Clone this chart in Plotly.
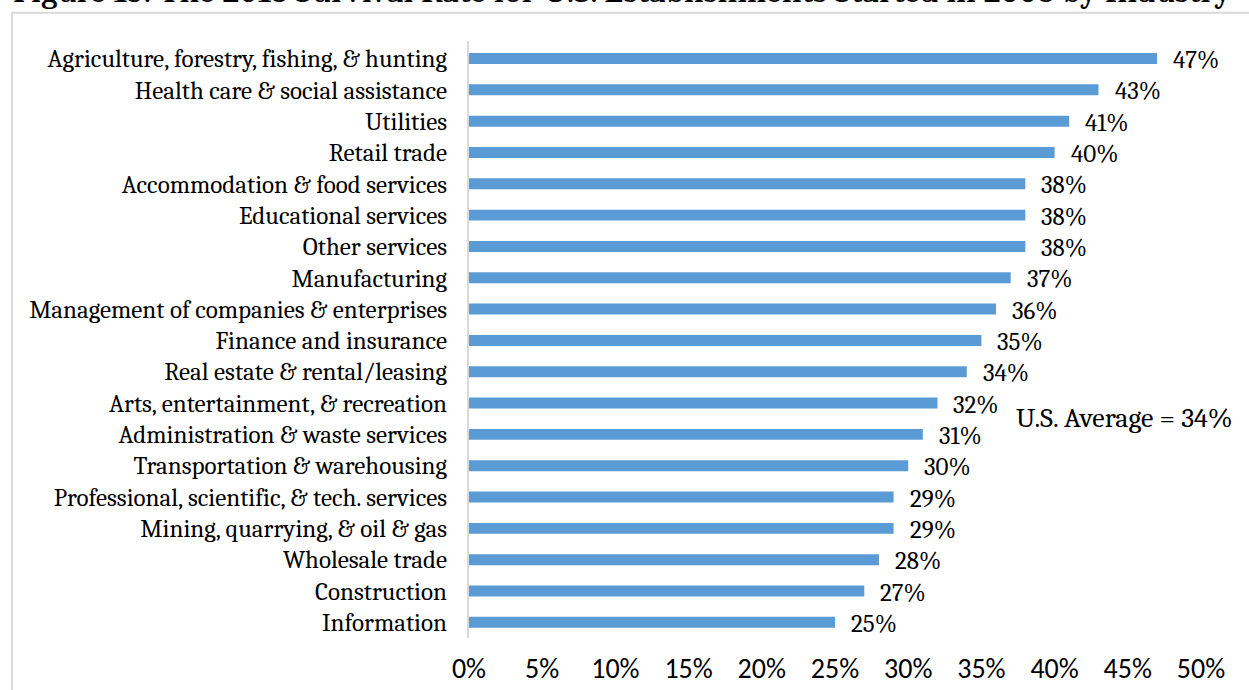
import plotly.graph_objects as go

categories = [
    "Agriculture, forestry, fishing, & hunting",
    "Health care & social assistance",
    "Utilities",
    "Retail trade",
    "Accommodation & food services",
    "Educational services",
    "Other services",
    "Manufacturing",
    "Management of companies & enterprises",
    "Finance and insurance",
    "Real estate & rental/leasing",
    "Arts, entertainment, & recreation",
    "Administration & waste services",
    "Transportation & warehousing",
    "Professional, scientific, & tech. services",
    "Mining, quarrying, & oil & gas",
    "Wholesale trade",
    "Construction",
    "Information",
]
survival_rate = [0.47, 0.43, 0.41, 0.40, 0.38, 0.38, 0.38, 0.37, 0.36, 0.35,
                 0.34, 0.32, 0.31, 0.30, 0.29, 0.29, 0.28, 0.27, 0.25]
x_ticks = [0, 0.05, 0.10, 0.15, 0.20, 0.25, 0.30, 0.35, 0.40, 0.45, 0.50]
x_tick_labels = ["0%", "5%", "10%", "15%", "20%", "25%", "30%", "35%", "40%", "45%", "50%"]
title_text = "Figure 13: The 2018 Survival Rate for U.S. Establishments Started in 2008 by Industry"
average_text = "U.S. Average = 34%"

SERIF = "Cambria, Caladea, 'Liberation Serif', serif"
SANS = "Calibri, Carlito, 'Liberation Sans', sans-serif"

fig = go.Figure()
fig.add_trace(go.Bar(
    x=survival_rate,
    y=categories,
    orientation="h",
    marker=dict(color="#5b9bd5", line=dict(width=0)),
    hoverinfo="x+y",
))

annotations = []
for cat, v in zip(categories, survival_rate):
    annotations.append(dict(
        x=v, y=cat, xref="x", yref="y",
        text=f"{round(v * 100)}%",
        showarrow=False, xanchor="left", yanchor="middle",
        xshift=14, yshift=-1,
        font=dict(family=SERIF, size=25, color="#000000"),
    ))

annotations.append(dict(
    x=0.744, y=0.368, xref="paper", yref="paper",
    text=average_text, showarrow=False, xanchor="left", yanchor="middle",
    font=dict(family=SERIF, size=28, color="#000000"),
))

annotations.append(dict(
    x=-0.626, y=1.0475, xref="paper", yref="paper",
    text=title_text, showarrow=False, xanchor="left", yanchor="bottom",
    font=dict(family=SERIF, size=35.5, color="#000000"),
))

fig.update_layout(
    width=1249, height=690,
    margin=dict(l=469, r=48, t=40.5, b=52.3, pad=0),
    paper_bgcolor="white", plot_bgcolor="white",
    showlegend=False,
    bargap=0.65,
    annotations=annotations,
    shapes=[dict(
        type="rect", xref="paper", yref="paper",
        x0=-0.6243, x1=1.5, y0=-0.5, y1=1.0474,
        line=dict(color="#d9d9d9", width=2), fillcolor="rgba(0,0,0,0)",
        layer="below",
    )],
    xaxis=dict(
        range=[0, 0.5], tickvals=x_ticks, ticktext=x_tick_labels,
        showgrid=False, zeroline=False, showline=False, automargin=False,
        ticks="outside", ticklen=5, tickcolor="rgba(0,0,0,0)",
        tickfont=dict(family=SANS, size=28, color="#000000"),
    ),
    yaxis=dict(
        categoryorder="array", categoryarray=categories, autorange="reversed",
        showgrid=False, zeroline=False, automargin=False,
        showline=True, linecolor="#d9d9d9", linewidth=2,
        ticks="outside", ticklen=15, tickcolor="rgba(0,0,0,0)",
        tickfont=dict(family=SERIF, size=25, color="#000000"),
    ),
)

fig.write_html("out.html")
